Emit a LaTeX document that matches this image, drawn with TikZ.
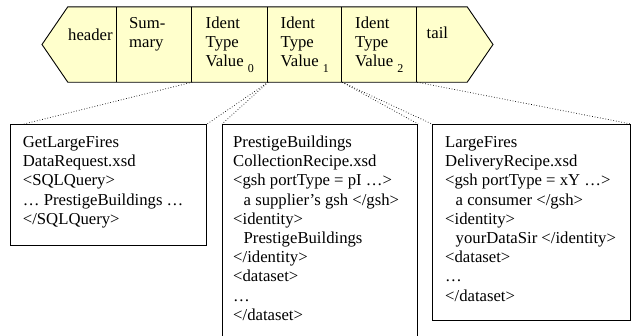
\documentclass[tikz,border=0pt]{standalone}
\usepackage{fontspec}
\setmainfont{Liberation Serif}
\definecolor{barfill}{HTML}{FFFFCC}
\newcommand\tline[1]{\hbox{#1}}
\newcommand\ind{\hspace*{10.5pt}}
\newcommand\subidx[1]{\raisebox{-6pt}{\fontsize{12}{12}\selectfont #1}}
\begin{document}
\begin{tikzpicture}[x=1pt,y=-1pt,
  seg/.style={inner sep=0pt, minimum height=75pt},
  txt/.style={anchor=base west, inner sep=0pt, font=\fontsize{16.7}{19.2}\selectfont},
  box/.style={draw, line width=1.1pt, inner sep=0pt, anchor=north west},
  link/.style={dotted, line width=0.7pt},
  outline/.style={draw, line width=0.9pt}]
\useasboundingbox (0,0) rectangle (632,335);
% bar segments
\coordinate (ltip) at (42,44.5);
\coordinate (rtip) at (493,44.5);
\node[seg, minimum width=49pt] (hdr) at (92.5,44.5) {};
\node[seg, minimum width=75pt] (sum) at (154.5,44.5) {};
\node[seg, minimum width=76pt] (id0) at (230,44.5) {};
\node[seg, minimum width=74pt] (id1) at (305,44.5) {};
\node[seg, minimum width=75pt] (id2) at (379.5,44.5) {};
\node[seg, minimum width=50pt] (tl) at (442,44.5) {};
\fill[barfill] (hdr.north west) -- (tl.north east) -- (rtip) -- (tl.south east) -- (hdr.south west) -- (ltip) -- cycle;
\draw[outline] (hdr.north west) -- (tl.north east) -- (rtip) -- (tl.south east) -- (hdr.south west) -- (ltip) -- cycle;
\draw[outline] (sum.north west) -- (sum.south west);
\draw[outline] (id0.north west) -- (id0.south west);
\draw[outline] (id1.north west) -- (id1.south west);
\draw[outline] (id2.north west) -- (id2.south west);
\draw[outline] (tl.north west) -- (tl.south west);
% bar texts
\node[txt] (t0) at (68,40) {header};
\node[txt] (t1) at (129,28) {\vtop{\tline{Sum-}\tline{mary}}};
\node[txt] (t2) at (205.5,28) {\vtop{\tline{Ident}\tline{Type}\tline{Value \subidx{0}}}};
\node[txt] (t3) at (280.5,28) {\vtop{\tline{Ident}\tline{Type}\tline{Value \subidx{1}}}};
\node[txt] (t4) at (355,28) {\vtop{\tline{Ident}\tline{Type}\tline{Value \subidx{2}}}};
\node[txt] (t5) at (426.5,38) {tail};
% lower boxes
\node[box, minimum width=196pt, minimum height=121pt] (b1) at (10,124) {};
\node[box, minimum width=195pt, minimum height=230pt] (b2) at (222,124) {};
\node[box, minimum width=198pt, minimum height=196pt] (b3) at (432,124) {};
\node[txt] (x1) at (22.7,147.5) {\vtop{\tline{GetLargeFires}\tline{DataRequest.xsd}\tline{<SQLQuery>}\tline{… PrestigeBuildings …}\tline{</SQLQuery>}}};
\node[txt] (x2) at (233,147.5) {\vtop{\tline{PrestigeBuildings}\tline{CollectionRecipe.xsd}\tline{<gsh portType = pI …>}\tline{\ind a supplier’s gsh </gsh>}\tline{<identity>}\tline{\ind PrestigeBuildings}\tline{</identity>}\tline{<dataset>}\tline{…}\tline{</dataset>}}};
\node[txt] (x3) at (445,147.5) {\vtop{\tline{LargeFires}\tline{DeliveryRecipe.xsd}\tline{<gsh portType = xY …>}\tline{\ind a consumer </gsh>}\tline{<identity>}\tline{\ind yourDataSir </identity>}\tline{<dataset>}\tline{…}\tline{</dataset>}}};
% connectors
\draw[link] (sum.south east) -- ([xshift=14pt]b1.north west);
\draw[link] (id0.south east) -- (b1.north east);
\draw[link] (id0.south east) -- (b2.north west);
\draw[link] (id1.south east) -- (b2.north east);
\draw[link] (id1.south east) -- (b3.north west);
\draw[link] (id2.south east) -- (b3.north east);
\end{tikzpicture}
\end{document}
